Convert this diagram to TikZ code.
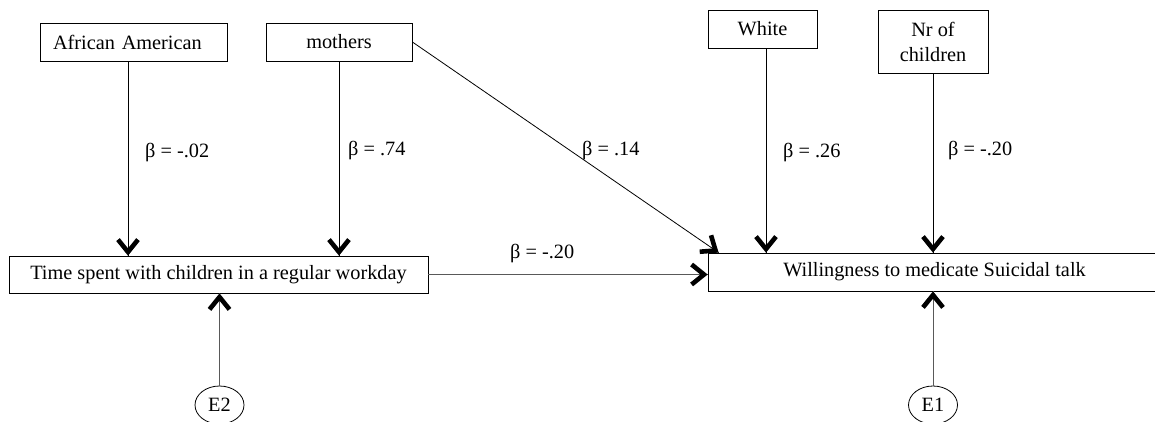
\documentclass[tikz,border=0pt]{standalone}
\usepackage{fontspec}
\setmainfont{Liberation Serif}
\usetikzlibrary{decorations.markings,shapes.geometric}
\begin{document}
\begin{tikzpicture}[x=1pt,y=-1pt,
  txt/.style={font=\fontsize{20.3}{25}\selectfont},
  box/.style={txt, draw, line width=0.8pt, rectangle, inner sep=0pt, align=center},
  err/.style={txt, draw, ellipse, line width=0.8pt, inner sep=0pt,
    minimum width=49pt, minimum height=38pt},
  % bold open V head at the end of a path
  vhead/.style={postaction={decorate}, decoration={markings,
    mark=at position 1 with {\draw[black, line width=4.6pt, line join=miter, line cap=butt]
      (-16pt,-10pt) -- (-3.6pt,0pt) -- (-16pt,10pt);}}},
  effect/.style={vhead, line width=0.8pt, black},
  resid/.style={vhead, line width=1pt, black!65},
  beta/.style={txt, anchor=base west, inner sep=0pt}]
\clip (0,0) rectangle (1155,421);

% observed variables
\node[box, minimum width=187pt, minimum height=38pt, text width=161pt, align=left]
  (aa) at (133.5,42) {African American};
\node[box, minimum width=146pt, minimum height=38pt] (mo) at (339,42) {mothers};
\node[box, minimum width=109pt, minimum height=38pt] (wh) at (762.5,29) {White};
\node[box, minimum width=110pt, minimum height=63pt] (nr) at (933,41.5) {Nr of\\children};
\node[box, minimum width=419pt, minimum height=37pt] (time) at (218.5,274.5)
  {Time spent with children in a regular workday};
\node[box, minimum width=453pt, minimum height=38pt] (will) at (934.5,272)
  {Willingness to medicate Suicidal talk};

% error terms
\node[err] (e2) at (219.5,405) {E2};
\node[err] (e1) at (933,405) {E1};

% paths
\draw[effect] ([xshift=-5.5pt]aa.south) -- ([xshift=-5.5pt]aa.south |- time.north);
\draw[effect] (mo.south) -- (mo.south |- time.north);
\draw[effect] (mo.east) -- ([xshift=11pt]will.north west);
\draw[effect] ([xshift=3.5pt]wh.south) -- ([xshift=3.5pt]wh.south |- will.north);
\draw[effect] (nr.south) -- (nr.south |- will.north);
\draw[resid] (time.east) -- (time.east -| will.west);
\draw[resid] (e2.north) -- (e2.north |- time.south);
\draw[resid] (e1.north) -- (e1.north |- will.south);

% coefficients
\node[beta] (b1) at (145,157) {β = -.02};
\node[beta] (b2) at (348,155) {β = .74};
\node[beta] (b3) at (582,155) {β = .14};
\node[beta] (b4) at (783,157) {β = .26};
\node[beta] (b5) at (948,155) {β = -.20};
\node[beta] (b6) at (510,258) {β = -.20};
\end{tikzpicture}
\end{document}
